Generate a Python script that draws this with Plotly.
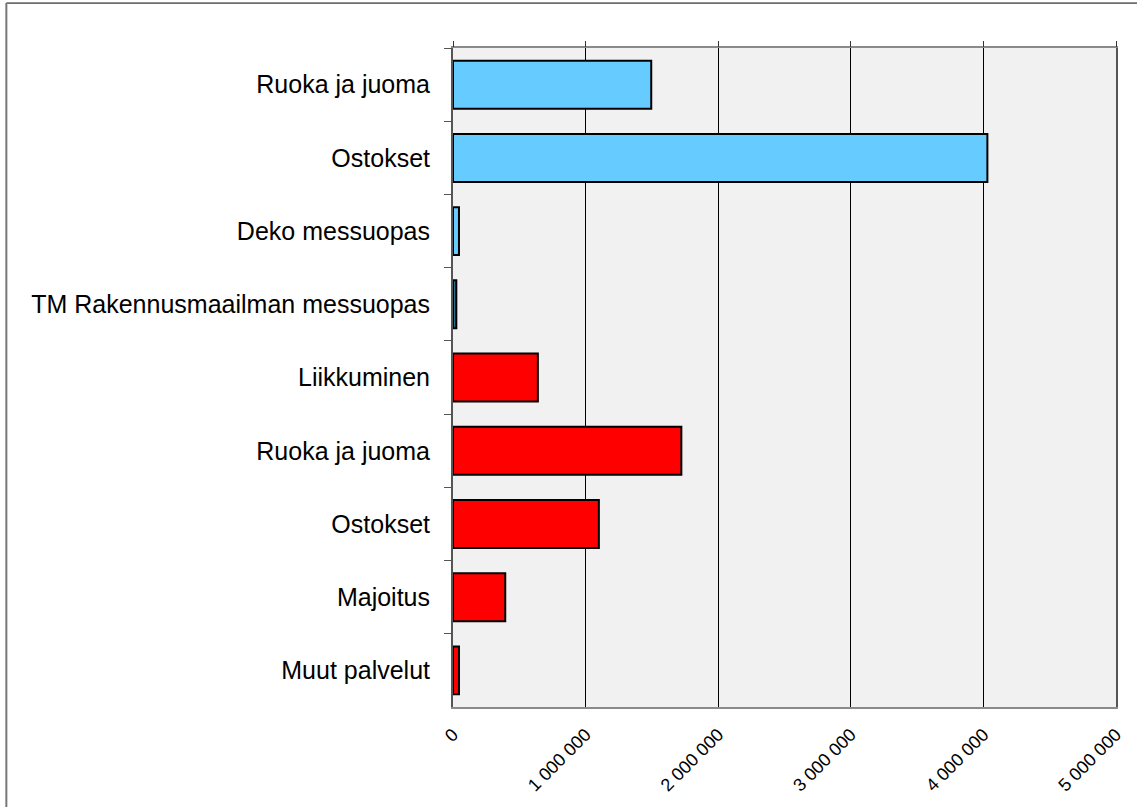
import plotly.graph_objects as go

# ---- data (top to bottom) ----
categories = [
    "Ruoka ja juoma",
    "Ostokset",
    "Deko messuopas",
    "TM Rakennusmaailman messuopas",
    "Liikkuminen",
    "Ruoka ja juoma",
    "Ostokset",
    "Majoitus",
    "Muut palvelut",
]
values = [1495000, 4030000, 45000, 25000, 640000, 1722000, 1100000, 394000, 45000]
bar_colors = ["#66CCFF", "#66CCFF", "#66CCFF", "#2E6A8C",
              "#FF0000", "#FF0000", "#FF0000", "#FF0000", "#FF0000"]
x_ticks = [0, 1000000, 2000000, 3000000, 4000000, 5000000]
x_ticktext = [f"{v:,}".replace(",", " ") for v in x_ticks]

# make duplicate category names unique (invisible suffix)
seen = {}
cat_unique = []
for c in categories:
    n = seen.get(c, 0)
    cat_unique.append(c + "\u200b" * n)
    seen[c] = n + 1

fig = go.Figure()
fig.add_trace(go.Bar(
    x=values, y=cat_unique, orientation="h",
    marker=dict(color=bar_colors, line=dict(color="black", width=2)),
    showlegend=False,
))
# helper trace for the top axis ticks
fig.add_trace(go.Scatter(x=[None], y=[cat_unique[0]], xaxis="x2",
                         mode="markers", showlegend=False, hoverinfo="skip"))

W, H = 1137, 807
L, R, T, B = 453, 19, 48, 99

fig.update_layout(
    width=W, height=H,
    margin=dict(l=L, r=R, t=T, b=B),
    paper_bgcolor="white",
    plot_bgcolor="#F1F1F1",
    bargap=0.345,
    font=dict(family="Liberation Sans, Arial, sans-serif", color="black"),
    xaxis=dict(
        range=[0, 5000000], tickvals=x_ticks, ticktext=x_ticktext,
        tickangle=-45, tickfont=dict(size=18),
        showgrid=True, gridcolor="black", gridwidth=1,
        zeroline=False, showline=True, linecolor="#8A8A8A", linewidth=2,
        mirror=True, ticks="", ticklabelstandoff=8,
    ),
    xaxis2=dict(
        range=[0, 5000000], tickvals=x_ticks, overlaying="x", side="top",
        showticklabels=False, ticks="outside", ticklen=6, tickcolor="#333333",
        showgrid=False, zeroline=False, showline=False,
    ),
    yaxis=dict(
        type="category", autorange="reversed", tickson="boundaries",
        ticks="outside", ticklen=7, tickcolor="#555555",
        tickfont=dict(size=25), showgrid=False,
        showline=True, linecolor="#555555", linewidth=2, mirror=True,
        ticklabelstandoff=16,
    ),
    shapes=[
        dict(type="line", xref="paper", yref="paper",
             x0=(5 - L) / (W - L - R), x1=1.1,
             y0=(H - B - 3) / (H - T - B), y1=(H - B - 3) / (H - T - B),
             line=dict(color="black", width=1)),
        dict(type="line", xref="paper", yref="paper",
             x0=(5 - L) / (W - L - R), x1=(5 - L) / (W - L - R),
             y0=(H - B - 3) / (H - T - B), y1=-0.3,
             line=dict(color="#777777", width=2)),
    ],
)

fig.write_html("out.html", config={"displayModeBar": False},
               post_script="document.body.style.margin='0';")
